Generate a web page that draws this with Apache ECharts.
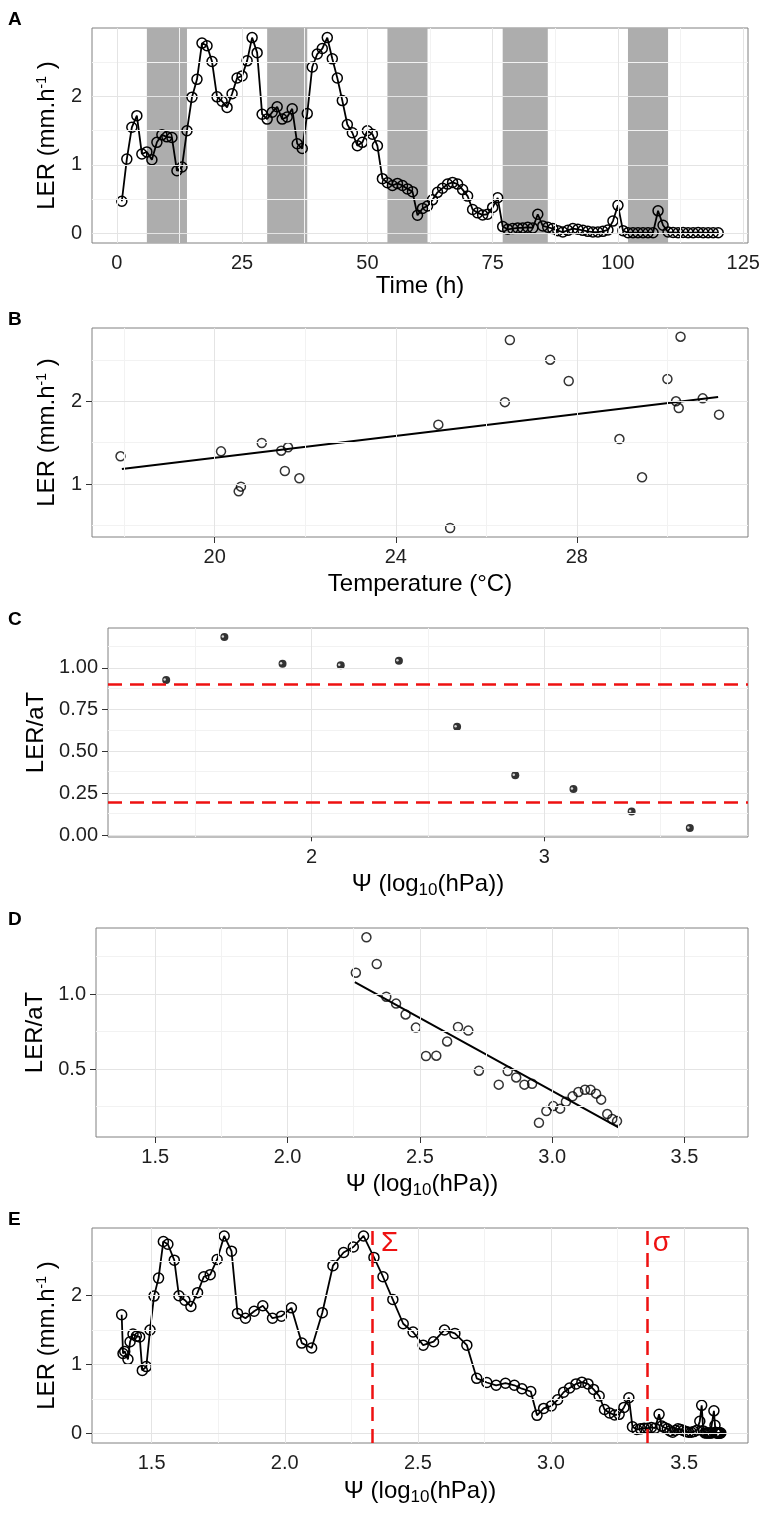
<!DOCTYPE html>
<html>
<head>
<meta charset="utf-8">
<script src="https://cdn.jsdelivr.net/npm/echarts@6/dist/echarts.min.js"></script>
<style>
html, body { margin: 0; padding: 0; background: #fff; }
#main { width: 761px; height: 1517px; }
</style>
</head>
<body>
<div id="main"></div>
<script>
// ---- A: LER over time (hours 1..120)
const lerA = [
  0.47, 1.085, 1.55, 1.72, 1.16, 1.19, 1.075, 1.33, 1.44, 1.41,
  1.40, 0.915, 0.97, 1.50, 1.99, 2.25, 2.78, 2.74, 2.51, 1.995,
  1.93, 1.84, 2.04, 2.27, 2.30, 2.52, 2.86, 2.64, 1.74, 1.67,
  1.77, 1.85, 1.67, 1.70, 1.82, 1.31, 1.24, 1.75, 2.43, 2.62,
  2.70, 2.86, 2.55, 2.27, 1.94, 1.59, 1.47, 1.28, 1.33, 1.50,
  1.45, 1.28, 0.80, 0.74, 0.70, 0.73, 0.70, 0.65, 0.61, 0.265,
  0.365, 0.40, 0.49, 0.60, 0.66, 0.72, 0.745, 0.72, 0.64, 0.545,
  0.35, 0.30, 0.27, 0.28, 0.38, 0.52, 0.10, 0.06, 0.07, 0.08,
  0.08, 0.09, 0.08, 0.28, 0.11, 0.09, 0.07, 0.04, 0.02, 0.045,
  0.07, 0.06, 0.045, 0.03, 0.02, 0.02, 0.03, 0.05, 0.18, 0.41,
  0.04, 0.01, 0.01, 0.01, 0.01, 0.01, 0.01, 0.33, 0.12, 0.02,
  0.015, 0.01, 0.015, 0.01, 0.01, 0.015, 0.01, 0.01, 0.01, 0.01
];
const nightStart = [6, 30, 54, 77, 102];
const nightEnd = [14, 38, 62, 86, 110];

// ---- B: LER vs temperature
const tempB = [17.92, 20.14, 21.04, 21.47, 21.62, 21.55, 21.87, 20.58, 20.53, 24.94, 25.20, 26.41,
  26.52, 27.41, 27.82, 28.94, 29.44, 30.00, 30.29, 30.19, 30.25, 30.78, 31.14];
const lerB = [1.335, 1.395, 1.496, 1.403, 1.444, 1.157, 1.069, 0.968, 0.911, 1.718, 0.468, 1.99,
  2.742, 2.504, 2.246, 1.544, 1.081, 2.27, 2.782, 2.0, 1.919, 2.036, 1.839];
const fitBx = [17.95, 31.12];
const fitBy = [1.181, 2.052];

// ---- C: binned LER/aT vs psi
const psiC = [1.375, 1.625, 1.875, 2.125, 2.375, 2.625, 2.875, 3.125, 3.375, 3.625];
const ratioC = [0.928, 1.185, 1.024, 1.016, 1.042, 0.649, 0.359, 0.277, 0.143, 0.044];
const thresholdsC = [0.9, 0.2];

// ---- D: LER/aT vs psi
const psiD = [2.258, 2.298, 2.337, 2.373, 2.41, 2.446, 2.485, 2.523, 2.562, 2.603, 2.644, 2.683,
  2.723, 2.798, 2.832, 2.864, 2.895, 2.924, 2.95, 2.978, 3.004, 3.03, 3.052, 3.077, 3.099, 3.124,
  3.145, 3.166, 3.185, 3.208, 3.227, 3.245];
const ratioD = [1.142, 1.378, 1.2, 0.982, 0.936, 0.864, 0.776, 0.587, 0.589, 0.684, 0.78, 0.756,
  0.489, 0.396, 0.487, 0.444, 0.396, 0.402, 0.142, 0.22, 0.253, 0.236, 0.282, 0.318, 0.347, 0.362,
  0.362, 0.336, 0.296, 0.2, 0.167, 0.153];
const fitDx = [2.254, 3.252];
const fitDy = [1.08, 0.109];

// ---- E: LER (hours 4..120) vs psi
const eFirstHour = 4;
const psiE = [
  1.3875, 1.3925, 1.399, 1.411, 1.419, 1.43, 1.4425, 1.455, 1.465, 1.48,
  1.494, 1.509, 1.526, 1.544, 1.561, 1.585, 1.6025, 1.625, 1.6475, 1.6725,
  1.696, 1.72, 1.746, 1.7725, 1.80, 1.8225, 1.8525, 1.885, 1.9175, 1.954,
  1.9875, 2.025, 2.064, 2.101, 2.141, 2.181, 2.221, 2.2575, 2.296, 2.335,
  2.369, 2.406, 2.445, 2.482, 2.52, 2.559, 2.60, 2.639, 2.684, 2.721,
  2.759, 2.794, 2.829, 2.8625, 2.891, 2.924, 2.9475, 2.9725, 3.001, 3.025,
  3.0475, 3.07, 3.094, 3.116, 3.139, 3.16, 3.181, 3.201, 3.22, 3.239,
  3.256, 3.274, 3.2925, 3.306, 3.3225, 3.336, 3.35, 3.363, 3.377, 3.391,
  3.406, 3.416, 3.426, 3.437, 3.447, 3.457, 3.467, 3.477, 3.487, 3.497,
  3.507, 3.517, 3.527, 3.537, 3.548, 3.559, 3.566, 3.572, 3.578, 3.584,
  3.589, 3.594, 3.599, 3.604, 3.612, 3.616, 3.618, 3.62, 3.622, 3.624,
  3.626, 3.628, 3.63, 3.632, 3.634, 3.636, 3.638
];
const sigmaLines = [2.335, 3.356];
const sigmaLabels = ['Σ', 'σ'];

const FONT = "'Liberation Sans', Arial, sans-serif";
const lerName = 'LER (mm.h{s|-1} )';
const psiName = 'Ψ (log{b|10}(hPa))';

const panels = [
  { letter: 'A', left: 92, top: 28, width: 656, height: 215,
    xMin: -4.95, xMax: 125.95, yMin: -0.14, yMax: 3.0,
    xTicks: [0, 25, 50, 75, 100, 125], xMinor: [12.5, 37.5, 62.5, 87.5, 112.5],
    yTicks: [0, 1, 2], yMinor: [0.5, 1.5, 2.5],
    xName: 'Time (h)', xGap: 30, xLine: 24, yName: lerName, yGap: 33, xDec: 0, yDec: 0 },
  { letter: 'B', left: 92, top: 328, width: 656, height: 209,
    xMin: 17.29, xMax: 31.78, yMin: 0.359, yMax: 2.887,
    xTicks: [20, 24, 28], xMinor: [18, 22, 26, 30],
    yTicks: [1, 2], yMinor: [0.5, 1.5, 2.5],
    xName: 'Temperature (°C)', xGap: 35, xLine: 24, yName: lerName, yGap: 33, xDec: 0, yDec: 0 },
  { letter: 'C', left: 108, top: 628, width: 640, height: 209,
    xMin: 1.125, xMax: 3.875, yMin: -0.01, yMax: 1.238,
    xTicks: [2, 3], xMinor: [1.5, 2.5, 3.5],
    yTicks: [0, 0.25, 0.5, 0.75, 1.0], yMinor: [0.125, 0.375, 0.625, 0.875, 1.125],
    xName: psiName, xGap: 32, xLine: 30, yName: 'LER/aT', yGap: 57, xDec: 0, yDec: 2 },
  { letter: 'D', left: 96, top: 928, width: 652, height: 209,
    xMin: 1.276, xMax: 3.74, yMin: 0.047, yMax: 1.44,
    xTicks: [1.5, 2.0, 2.5, 3.0, 3.5], xMinor: [1.75, 2.25, 2.75, 3.25],
    yTicks: [0.5, 1.0], yMinor: [0.25, 0.75, 1.25],
    xName: psiName, xGap: 32, xLine: 30, yName: 'LER/aT', yGap: 47, xDec: 1, yDec: 1 },
  { letter: 'E', left: 92, top: 1228, width: 656, height: 215,
    xMin: 1.276, xMax: 3.74, yMin: -0.135, yMax: 2.975,
    xTicks: [1.5, 2.0, 2.5, 3.0, 3.5], xMinor: [1.75, 2.25, 2.75, 3.25],
    yTicks: [0, 1, 2], yMinor: [0.5, 1.5, 2.5],
    xName: psiName, xGap: 33, xLine: 30, yName: lerName, yGap: 33, xDec: 1, yDec: 0 }
];

const rich = {
  s: { fontSize: 14, fontFamily: FONT, color: '#000', verticalAlign: 'top' },
  b: { fontSize: 17, fontFamily: FONT, color: '#000', verticalAlign: 'bottom' }
};

function gridLines(p) {
  const major = { color: '#e4e4e4', width: 1, type: 'solid' };
  const minor = { color: '#f2f2f2', width: 1, type: 'solid' };
  return [].concat(
    p.xMinor.map(v => ({ xAxis: v, lineStyle: minor })),
    p.yMinor.map(v => ({ yAxis: v, lineStyle: minor })),
    p.xTicks.map(v => ({ xAxis: v, lineStyle: major })),
    p.yTicks.map(v => ({ yAxis: v, lineStyle: major }))
  );
}

const grids = [], xAxes = [], yAxes = [], series = [], titles = [];

panels.forEach((p, i) => {
  grids.push({ left: p.left, top: p.top, width: p.width, height: p.height,
    containLabel: false, outerBoundsMode: 'none',
    show: true, backgroundColor: '#fff', borderColor: '#808080', borderWidth: 1 });
  xAxes.push({ type: 'value', gridIndex: i, min: p.xMin, max: p.xMax,
    name: p.xName, nameLocation: 'middle', nameGap: p.xGap,
    nameTextStyle: { fontSize: 24, lineHeight: p.xLine, fontFamily: FONT, color: '#000', rich: rich },
    axisLine: { show: false },
    axisTick: { show: true, length: 6, customValues: p.xTicks, lineStyle: { color: '#333', width: 1 } },
    axisLabel: { customValues: p.xTicks, margin: 10, fontSize: 20, fontFamily: FONT, color: '#1f1f1f',
      formatter: v => v.toFixed(p.xDec) },
    splitLine: { show: false } });
  yAxes.push({ type: 'value', gridIndex: i, min: p.yMin, max: p.yMax,
    name: p.yName, nameLocation: 'middle', nameGap: p.yGap, nameRotate: 90,
    nameTextStyle: { fontSize: 24, fontFamily: FONT, color: '#000', rich: rich },
    axisLine: { show: false },
    axisTick: { show: true, length: 6, customValues: p.yTicks, lineStyle: { color: '#333', width: 1 } },
    axisLabel: { customValues: p.yTicks, margin: 10, fontSize: 20, fontFamily: FONT, color: '#1f1f1f',
      formatter: v => v.toFixed(p.yDec) },
    splitLine: { show: false } });
  titles.push({ text: p.letter, left: 3, top: p.top - 23,
    textStyle: { fontSize: 19, fontWeight: 'bold', fontFamily: FONT, color: '#000' } });
  // panel grid lines
  series.push({ type: 'line', xAxisIndex: i, yAxisIndex: i, data: [], z: 1, silent: true,
    markLine: { silent: true, symbol: ['none', 'none'], label: { show: false }, animation: false,
      data: gridLines(p) } });
});

const hollow = { color: 'rgba(0,0,0,0)', borderColor: '#000', borderWidth: 1.5 };

// A
series.push({ type: 'line', xAxisIndex: 0, yAxisIndex: 0, data: [], z: 2, silent: true,
  markArea: { silent: true, itemStyle: { color: '#adadad' },
    data: nightStart.map((s, k) => [{ xAxis: s }, { xAxis: nightEnd[k] }]) } });
series.push({ type: 'line', xAxisIndex: 0, yAxisIndex: 0, z: 3,
  data: lerA.map((v, k) => [k + 1, v]),
  symbol: 'circle', symbolSize: 10, showAllSymbol: true, itemStyle: hollow,
  lineStyle: { color: '#000', width: 1.8 } });

// B
series.push({ type: 'scatter', xAxisIndex: 1, yAxisIndex: 1, z: 3,
  data: tempB.map((t, k) => [t, lerB[k]]), symbol: 'circle', symbolSize: 9, itemStyle: hollow });
series.push({ type: 'line', xAxisIndex: 1, yAxisIndex: 1, z: 3, showSymbol: false,
  data: fitBx.map((x, k) => [x, fitBy[k]]), lineStyle: { color: '#000', width: 2 } });

// C
series.push({ type: 'line', xAxisIndex: 2, yAxisIndex: 2, data: [], z: 2, silent: true,
  markLine: { silent: true, symbol: ['none', 'none'], label: { show: false }, animation: false,
    lineStyle: { color: '#ee1111', width: 2.5, type: [14, 8] },
    data: thresholdsC.map(v => ({ yAxis: v })) } });
series.push({ type: 'scatter', xAxisIndex: 2, yAxisIndex: 2, z: 3,
  data: psiC.map((x, k) => [x, ratioC[k]]), symbol: 'circle', symbolSize: 8,
  itemStyle: { color: '#000' } });
series.push({ type: 'scatter', xAxisIndex: 2, yAxisIndex: 2, z: 4,
  data: psiC.map((x, k) => [x, ratioC[k]]), symbol: 'circle', symbolSize: 2.5,
  symbolOffset: [-1.5, -0.5], itemStyle: { color: '#fff' } });

// D
series.push({ type: 'scatter', xAxisIndex: 3, yAxisIndex: 3, z: 3,
  data: psiD.map((x, k) => [x, ratioD[k]]), symbol: 'circle', symbolSize: 9, itemStyle: hollow });
series.push({ type: 'line', xAxisIndex: 3, yAxisIndex: 3, z: 3, showSymbol: false,
  data: fitDx.map((x, k) => [x, fitDy[k]]), lineStyle: { color: '#000', width: 2 } });

// E
series.push({ type: 'line', xAxisIndex: 4, yAxisIndex: 4, z: 3,
  data: psiE.map((x, k) => [x, lerA[k + eFirstHour - 1]]),
  symbol: 'circle', symbolSize: 10, showAllSymbol: true, itemStyle: hollow,
  lineStyle: { color: '#000', width: 1.8 } });
series.push({ type: 'line', xAxisIndex: 4, yAxisIndex: 4, data: [], z: 4, silent: true,
  markLine: { silent: true, symbol: ['none', 'none'], label: { show: false }, animation: false,
    lineStyle: { color: '#ee1111', width: 2.5, type: [14, 8] },
    data: sigmaLines.map(v => ({ xAxis: v })) } });

const chart = echarts.init(document.getElementById('main'), null, { renderer: 'canvas' });
chart.setOption({
  animation: false,
  backgroundColor: '#fff',
  title: titles,
  grid: grids,
  xAxis: xAxes,
  yAxis: yAxes,
  series: series
});

// sigma labels next to the dashed lines, placed via the axis scales
const eTop = panels[4].yMax;
chart.setOption({
  graphic: sigmaLines.map((v, k) => {
    const pt = chart.convertToPixel({ xAxisIndex: 4, yAxisIndex: 4 }, [v, eTop]);
    return { type: 'text', x: pt[0] + 7, y: pt[1] + 1, z: 10, silent: true,
      style: { text: sigmaLabels[k], fill: '#ee1111', fontSize: 28, fontFamily: FONT, verticalAlign: 'top' } };
  })
});
</script>
</body>
</html>
